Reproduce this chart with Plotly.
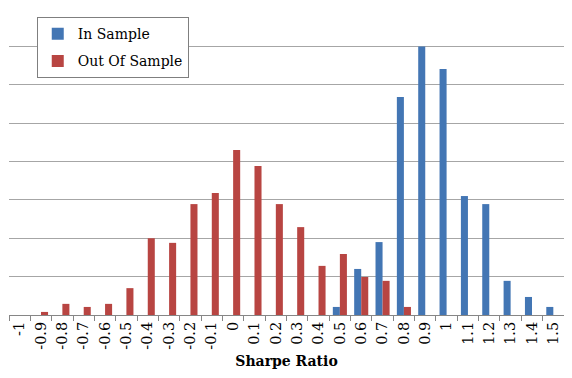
import plotly.graph_objects as go

categories = ["-1", "-0.9", "-0.8", "-0.7", "-0.6", "-0.5", "-0.4", "-0.3", "-0.2", "-0.1",
              "0", "0.1", "0.2", "0.3", "0.4", "0.5", "0.6", "0.7", "0.8", "0.9",
              "1", "1.1", "1.2", "1.3", "1.4", "1.5"]

in_sample = [0, 0, 0, 0, 0, 0, 0, 0, 0, 0,
             0, 0, 0, 0, 0, 0.21, 1.2, 1.9, 5.68, 7.0,
             6.41, 3.1, 2.89, 0.89, 0.47, 0.21]

out_of_sample = [0, 0.08, 0.29, 0.21, 0.29, 0.7, 2.0, 1.88, 2.89, 3.18,
                 4.3, 3.88, 2.89, 2.29, 1.28, 1.59, 0.99, 0.89, 0.21, 0,
                 0, 0, 0, 0, 0, 0]

FONT = "DejaVu Serif"

fig = go.Figure()
fig.add_trace(go.Bar(
    x=categories, y=in_sample, name="In Sample", legendgroup="a",
    marker=dict(color="#4376B4", line=dict(width=0)),
))
fig.add_trace(go.Bar(
    x=categories, y=out_of_sample, name="Out Of Sample", legendgroup="b",
    marker=dict(color="#B84542", line=dict(width=0)),
))

# page body has an 8px default margin, so the figure is sized to sit at (8, 8)
fig.update_layout(
    width=564, height=370,
    margin=dict(l=1, r=8, t=0, b=63, autoexpand=False),
    paper_bgcolor="white", plot_bgcolor="white",
    barmode="group", bargap=0.34, bargroupgap=0,
    font=dict(family=FONT, color="black"),
    showlegend=True,
    legend=dict(
        x=0.05, y=0.97, xanchor="left", yanchor="top",
        bgcolor="white", bordercolor="#7F7F7F", borderwidth=1,
        font=dict(family=FONT, size=14, color="black"),
        traceorder="grouped", tracegroupgap=6,
        itemwidth=30,
    ),
    xaxis=dict(
        type="category", tickangle=-90, tickson="boundaries",
        ticks="outside", ticklen=5, tickcolor="#868686",
        showline=True, linecolor="#868686", linewidth=1,
        showgrid=False,
        tickfont=dict(family=FONT, size=14.5, color="black"),
        title=dict(text="<b>Sharpe Ratio</b>", standoff=7,
                   font=dict(family=FONT, size=14, color="black")),
        automargin=False,
    ),
    yaxis=dict(
        range=[0, 8], dtick=1, showticklabels=False,
        showgrid=True, gridcolor="#A6A6A6", gridwidth=1,
        zeroline=False, showline=False, ticks="",
        automargin=False,
    ),
)

fig.write_html("out.html")
